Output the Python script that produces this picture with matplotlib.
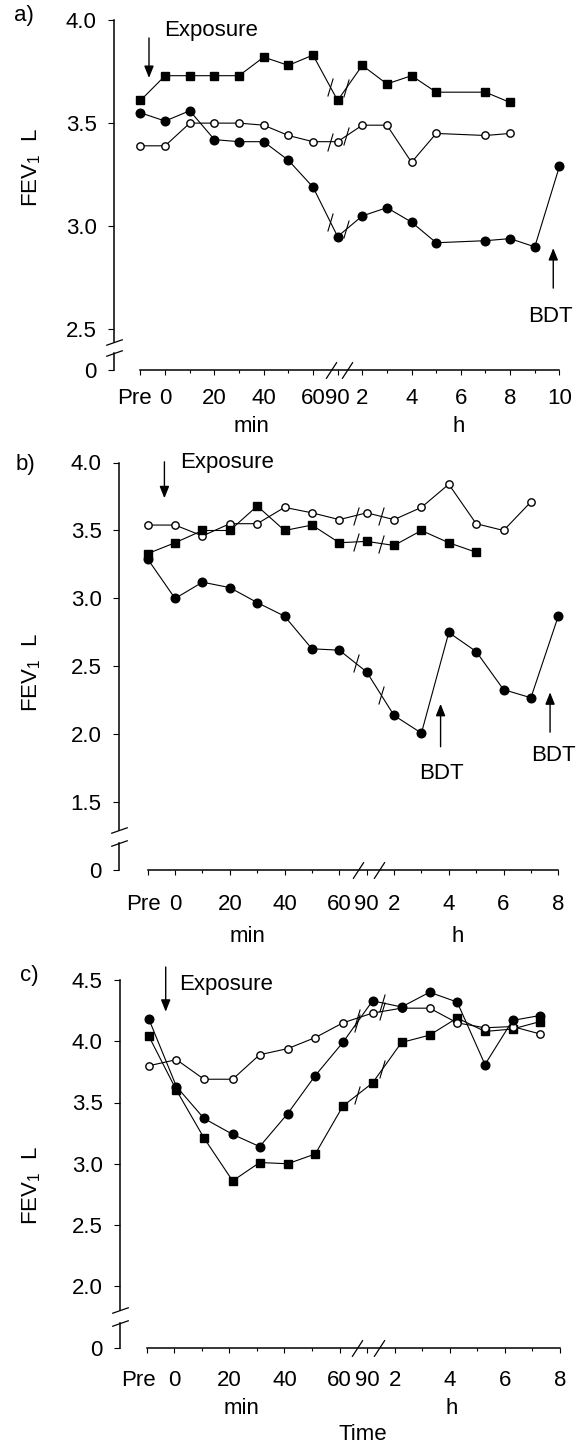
import numpy as np
import matplotlib.pyplot as plt
from matplotlib.path import Path
from matplotlib.transforms import ScaledTranslation

plt.rcParams['font.family'] = ['Liberation Sans', 'DejaVu Sans']
plt.rcParams['font.size'] = 16

W, H = 581, 1454

# time axis index: 0 = Pre, 1..8 = 0,10,...,60,90 min, 9.. = 2,3,... h
tick_labels_a = ['Pre', '0', '', '20', '', '40', '', '60', '90', '2', '', '4', '', '6', '', '8', '', '10']
tick_labels_bc = tick_labels_a[:16]

# ---- panel a ----
a_sq_t = [0, 1, 2, 3, 4, 5, 6, 7, 8, 9, 10, 11, 12, 14, 15]
a_sq = [3.61, 3.73, 3.73, 3.73, 3.73, 3.82, 3.78, 3.83, 3.61, 3.78, 3.69, 3.73, 3.65, 3.65, 3.60]
a_open_t = [0, 1, 2, 3, 4, 5, 6, 7, 8, 9, 10, 11, 12, 14, 15]
a_open = [3.39, 3.39, 3.50, 3.50, 3.50, 3.49, 3.44, 3.41, 3.41, 3.49, 3.49, 3.31, 3.45, 3.44, 3.45]
a_fill_t = [0, 1, 2, 3, 4, 5, 6, 7, 8, 9, 10, 11, 12, 14, 15, 16, 17]
a_fill = [3.55, 3.51, 3.56, 3.42, 3.41, 3.41, 3.32, 3.19, 2.95, 3.05, 3.09, 3.02, 2.92, 2.93, 2.94, 2.90, 3.29]

# ---- panel b ----
b_open_t = list(range(15))
b_open = [3.54, 3.54, 3.46, 3.55, 3.55, 3.67, 3.63, 3.58, 3.63, 3.58, 3.67, 3.84, 3.55, 3.50, 3.71]
b_sq_t = list(range(13))
b_sq = [3.33, 3.41, 3.50, 3.50, 3.68, 3.50, 3.54, 3.41, 3.42, 3.39, 3.50, 3.41, 3.34]
b_fill_t = list(range(16))
b_fill = [3.29, 3.00, 3.12, 3.08, 2.97, 2.87, 2.63, 2.62, 2.46, 2.14, 2.01, 2.75, 2.61, 2.33, 2.27, 2.87]

# ---- panel c ----
c_t = [0.08, 1.08, 2.08, 3.12, 4.1, 5.12, 6.12, 7.12, 8.2, 9.25, 10.27, 11.27, 12.28, 13.28, 14.27]
c_fill = [4.18, 3.63, 3.37, 3.24, 3.14, 3.41, 3.72, 3.99, 4.33, 4.28, 4.40, 4.32, 3.81, 4.17, 4.21]
c_open = [3.80, 3.85, 3.69, 3.69, 3.89, 3.94, 4.03, 4.15, 4.23, 4.27, 4.27, 4.15, 4.11, 4.12, 4.06]
c_sq = [4.04, 3.60, 3.21, 2.86, 3.01, 3.00, 3.08, 3.47, 3.66, 3.99, 4.05, 4.19, 4.08, 4.10, 4.16]

slash = Path([(-0.3, -1), (0.3, 1)], [Path.MOVETO, Path.LINETO])
axis_slash = Path([(-0.65, -1), (0.65, 1)], [Path.MOVETO, Path.LINETO])
ybreak_mark = Path([(-1, -0.35), (1, 0.35)], [Path.MOVETO, Path.LINETO])

fig = plt.figure(figsize=(W / 100, H / 100), dpi=100)


def make_axes(left, right, top, bottom):
    return fig.add_axes([left / W, 1 - bottom / H, (right - left) / W, (bottom - top) / H])


def draw_series(ax, t, v, kind):
    if kind == 'sq':
        ax.plot(t, v, color='k', lw=0.8, marker='s', ms=6, mfc='k', mec='k', clip_on=False, zorder=3)
    elif kind == 'open':
        ax.plot(t, v, color='k', lw=0.8, marker='o', ms=5.3, mfc='white', mec='k', mew=1.0, clip_on=False, zorder=3)
    else:
        ax.plot(t, v, color='k', lw=0.8, marker='o', ms=6.2, mfc='k', mec='k', clip_on=False, zorder=3)


def break_slashes(ax, series, positions):
    for t, v in series:
        ys = np.interp(positions, t, v)
        ax.plot(positions, ys, ls='none', marker=slash, ms=13, mew=0.8, color='k', clip_on=False, zorder=4)


def setup(ax, xlim, ylim, yticks, ybrk, labels, xbrk, pad, pre_shift):
    ax.set_xlim(*xlim)
    ax.set_ylim(*ylim)
    ax.spines['top'].set_visible(False)
    ax.spines['right'].set_visible(False)
    ax.spines['left'].set_bounds(ybrk[1], ylim[1])
    ax.spines['bottom'].set_bounds(0, len(labels) - 1)
    for s in ['left', 'bottom']:
        ax.spines[s].set_linewidth(1.1)
    ax.plot([0, 0], [ylim[0], ybrk[0]], transform=ax.get_yaxis_transform(),
            color='k', lw=1.1, clip_on=False)
    ax.plot([0, 0], list(ybrk), transform=ax.get_yaxis_transform(), ls='none',
            marker=ybreak_mark, ms=12, mew=0.9, color='k', clip_on=False)
    ax.plot(xbrk, [ylim[0]] * len(xbrk), ls='none', marker=axis_slash, ms=12,
            mew=0.9, color='k', clip_on=False)

    ax.set_yticks([ylim[0]] + yticks, ['0'] + ['%.1f' % y for y in yticks])
    major = [i for i, l in enumerate(labels) if l]
    minor = [i for i, l in enumerate(labels) if not l]
    ax.set_xticks(major, [labels[i] for i in major])
    ax.set_xticks(minor, minor=True)
    ax.tick_params(axis='x', which='major', length=3.6, width=0.8, pad=pad)
    ax.tick_params(axis='x', which='minor', length=2.0, width=0.8)
    ax.tick_params(axis='y', length=4.5, width=0.8, pad=8)
    ax.patch.set_visible(False)
    # "Pre" sits a little left of its tick in the original
    pre = ax.get_xticklabels()[0]
    pre.set_transform(pre.get_transform() + ScaledTranslation(-pre_shift / 100, 0, fig.dpi_scale_trans))


def ylabel(ax, box, x, y):
    left, right, top, bottom = box
    ax.set_ylabel('FEV$_\\mathregular{1}$  L')
    ax.yaxis.set_label_coords((x - left) / (right - left), (bottom - y) / (bottom - top))


def sub_label(ax, text, pos, dy):
    ax.annotate(text, xy=(pos, 0), xycoords=('data', 'axes fraction'),
                xytext=(0, -dy * 0.72), textcoords='offset points',
                ha='center', va='center', annotation_clip=False)


def arrow(ax, x, tail, head):
    ax.annotate('', xy=(x, head), xytext=(x, tail),
                arrowprops=dict(arrowstyle='-|>,head_length=0.55,head_width=0.22',
                                color='k', lw=1.0, shrinkA=0, shrinkB=0, mutation_scale=13),
                annotation_clip=False)


# ---------------- panel a ----------------
box_a = (114, 574.2, 20, 370)
ax = make_axes(*box_a)
setup(ax, (-1.075, 17.6), (2.303, 4.0), [2.5, 3.0, 3.5, 4.0], (2.385, 2.44),
      tick_labels_a, [7.73, 8.36], 9.0, 6)
draw_series(ax, a_open_t, a_open, 'open')
draw_series(ax, a_sq_t, a_sq, 'sq')
draw_series(ax, a_fill_t, a_fill, 'fill')
break_slashes(ax, [(a_sq_t, a_sq), (a_open_t, a_open), (a_fill_t, a_fill)], [7.7, 8.35])
ylabel(ax, box_a, 43, 168)
sub_label(ax, 'min', 4.5, 56.7)
sub_label(ax, 'h', 12.9, 56.7)
arrow(ax, 0.345, 3.913, 3.719)
ax.text(0.95, 3.95, 'Exposure', ha='left', va='center')
arrow(ax, 16.75, 2.70, 2.894)
ax.text(16.65, 2.56, 'BDT', ha='center', va='center')
fig.text(14 / W, 1 - 16 / H, 'a)', ha='left', va='center')

# ---------------- panel b ----------------
box_b = (119, 574.7, 462.5, 869.8)
ax = make_axes(*box_b)
setup(ax, (-1.049, 15.6), (1.005, 4.0), [1.5, 2.0, 2.5, 3.0, 3.5, 4.0], (1.202, 1.298),
      tick_labels_bc, [7.67, 8.45], 14.0, 4)
draw_series(ax, b_open_t, b_open, 'open')
draw_series(ax, b_sq_t, b_sq, 'sq')
draw_series(ax, b_fill_t, b_fill, 'fill')
break_slashes(ax, [(b_sq_t, b_sq), (b_open_t, b_open), (b_fill_t, b_fill)], [7.6, 8.53])
ylabel(ax, box_b, 43, 672.5)
sub_label(ax, 'min', 3.65, 67.2)
sub_label(ax, 'h', 11.31, 67.2)
arrow(ax, 0.61, 4.005, 3.737)
ax.text(1.18, 4.0, 'Exposure', ha='left', va='center')
arrow(ax, 10.7, 1.91, 2.225)
ax.text(10.74, 1.71, 'BDT', ha='center', va='center')
arrow(ax, 14.7, 2.017, 2.31)
ax.text(14.82, 1.845, 'BDT', ha='center', va='center')
fig.text(16 / W, 1 - 465 / H, 'b)', ha='left', va='center')

# ---------------- panel c ----------------
box_c = (120, 573.7, 980, 1347.5)
ax = make_axes(*box_c)
setup(ax, (-0.969, 15.5), (1.5, 4.5), [2.0, 2.5, 3.0, 3.5, 4.0, 4.5], (1.70, 1.806),
      tick_labels_bc, [7.65, 8.45], 12.8, 8)
draw_series(ax, c_t, c_sq, 'sq')
draw_series(ax, c_t, c_open, 'open')
draw_series(ax, c_t, c_fill, 'fill')
break_slashes(ax, [(c_t, c_sq), (c_t, c_open), (c_t, c_fill)], [7.62, 8.55])
ylabel(ax, box_c, 43, 1186)
sub_label(ax, 'min', 3.45, 60.5)
sub_label(ax, 'h', 11.07, 60.5)
sub_label(ax, 'Time', 7.86, 87.5)
arrow(ax, 0.69, 4.606, 4.241)
ax.text(1.165, 4.467, 'Exposure', ha='left', va='center')
fig.text(20 / W, 1 - 976 / H, 'c)', ha='left', va='center')

fig.savefig('out.png', dpi=100)
